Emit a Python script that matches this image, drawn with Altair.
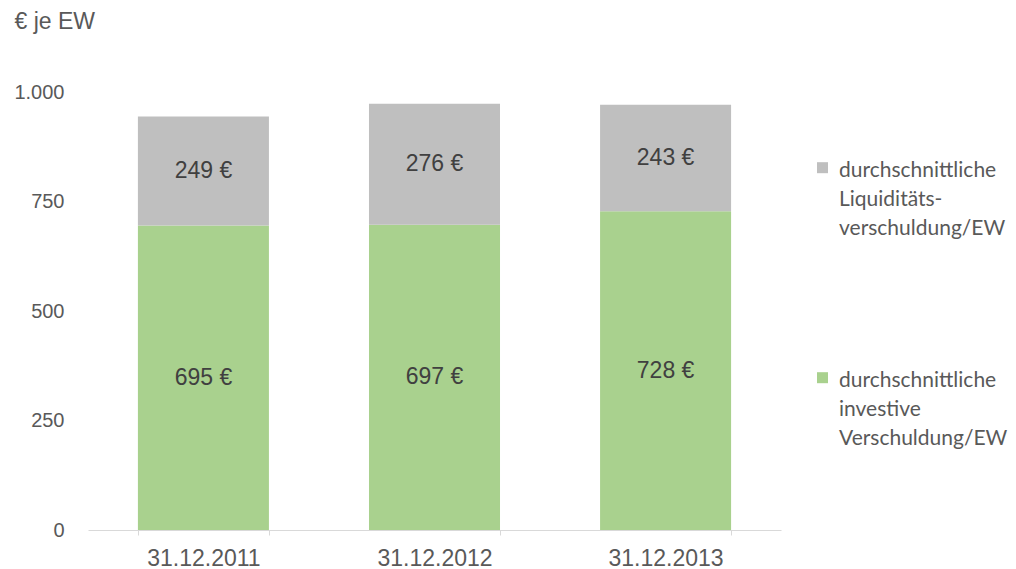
import altair as alt
import pandas as pd

dates = ["31.12.2011", "31.12.2012", "31.12.2013"]
investive = [695, 697, 728]
liquiditaet = [249, 276, 243]
series = [
    "durchschnittliche|Liquiditäts-|verschuldung/EW",
    "durchschnittliche|investive|Verschuldung/EW",
]
colors = ["#BFBFBF", "#A9D18E"]
y_ticks = [0, 250, 500, 750, 1000]

rows = []
for d, inv, liq in zip(dates, investive, liquiditaet):
    rows.append({"date": d, "series": series[1], "value": inv, "ord": 0})
    rows.append({"date": d, "series": series[0], "value": liq, "ord": 1})
df = pd.DataFrame(rows)

GREY_TXT = "#595959"

x_enc = alt.X(
    "date:N",
    sort=dates,
    scale=alt.Scale(paddingInner=0.433, paddingOuter=0.216),
    axis=alt.Axis(
        title=None,
        labelAngle=0,
        tickBand="extent",
        domainColor="#D9D9D9",
        tickColor="#D9D9D9",
        tickSize=5,
        labelFontSize=23,
        labelColor=GREY_TXT,
        labelPadding=12,
        labelFont="Liberation Sans",
        grid=False,
    ),
)

bars = alt.Chart(df).mark_bar().encode(
    x=x_enc,
    y=alt.Y(
        "value:Q",
        stack="zero",
        scale=alt.Scale(domain=[0, 1000]),
        axis=alt.Axis(
            values=y_ticks,
            grid=False,
            domain=False,
            ticks=False,
            labelExpr="replace(format(datum.value, ','), ',', '.')",
            labelFontSize=20,
            labelColor=GREY_TXT,
            labelFont="Liberation Sans",
            labelPadding=24,
            title="€ je EW",
            titleAngle=0,
            titleX=-74,
            titleY=-71,
            titleAlign="left",
            titleBaseline="middle",
            titleFontSize=23,
            titleFontWeight="normal",
            titleColor=GREY_TXT,
            titleFont="Liberation Sans",
        ),
    ),
    color=alt.Color(
        "series:N",
        scale=alt.Scale(domain=series, range=colors),
        legend=alt.Legend(
            title=None,
            orient="none",
            legendX=724,
            legendY=74,
            labelExpr="split(datum.label, '|')",
            labelFont="Lato",
            labelFontSize=21,
            labelColor=GREY_TXT,
            labelBaseline="alphabetic",
            labelLimit=400,
            labelOffset=6,
            symbolType="M-1,-2.6H1V-0.6H-1Z",
            symbolSize=121,
            symbolStrokeWidth=0,
            symbolOpacity=1,
            rowPadding=130,
        ),
    ),
    order=alt.Order("ord:Q"),
)

labels = (
    alt.Chart(df)
    .transform_stack(
        stack="value",
        groupby=["date"],
        as_=["y0", "y1"],
        sort=[alt.SortField("ord", order="ascending")],
    )
    .transform_calculate(
        mid="(datum.y0 + datum.y1) / 2",
        label="datum.value + ' €'",
    )
    .mark_text(fontSize=23, color="#404040", font="Liberation Sans", baseline="middle")
    .encode(
        x=alt.X("date:N", sort=dates),
        y=alt.Y("mid:Q"),
        text="label:N",
    )
)

chart = (
    alt.layer(bars, labels)
    .properties(
        width=693,
        height=438,
        autosize=alt.AutoSizeParams(type="none"),
        padding={"left": 80, "top": 84, "right": 227, "bottom": 42},
    )
    .configure(style={"guide-label": {"lineHeight": 29}})
    .configure_view(stroke=None)
)

chart.save("out.html", embed_options={"renderer": "svg", "actions": False})
